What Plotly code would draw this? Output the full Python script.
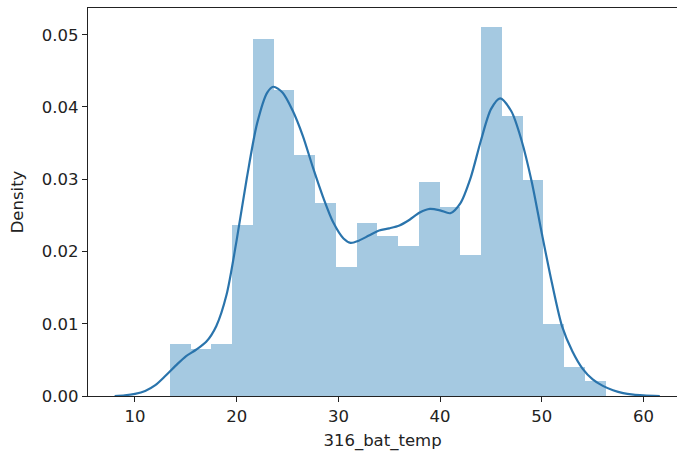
import plotly.graph_objects as go

# Histogram (density) bins
bin_edges = [13.44, 15.48, 17.52, 19.56, 21.60, 23.64, 25.68, 27.72, 29.76, 31.80,
             33.84, 35.88, 37.92, 39.96, 42.00, 44.04, 46.08, 48.12, 50.16, 52.20,
             54.24, 56.28]
bin_density = [0.0072, 0.0065, 0.0072, 0.0237, 0.0494, 0.0424, 0.0333, 0.0267, 0.0179,
               0.0239, 0.0221, 0.0207, 0.0296, 0.0262, 0.0195, 0.0511, 0.0387, 0.0299,
               0.0100, 0.0040, 0.0021]

# KDE curve
kde_x = [8, 9, 10, 11, 12, 13, 14, 15, 16, 17, 18, 19, 20, 21, 22, 23, 23.6, 24.5,
         25.5, 26.5, 27.5, 28.5, 29.5, 30.5, 31.2, 32, 33, 34, 35, 36, 37, 38, 39, 40,
         41, 42, 43, 44, 45, 45.9, 47, 48, 49, 50, 51, 52, 53, 54, 55, 56, 57, 58, 59,
         60, 61.6]
kde_y = [0.0000, 0.0001, 0.0003, 0.0007, 0.0015, 0.0028, 0.0042, 0.0055, 0.0064, 0.0075,
         0.0097, 0.0140, 0.0216, 0.0302, 0.0377, 0.0420, 0.0428, 0.0420, 0.0395, 0.0360,
         0.0316, 0.0275, 0.0240, 0.0218, 0.0212, 0.0215, 0.0222, 0.0229, 0.0232, 0.0236,
         0.0244, 0.0254, 0.0259, 0.0257, 0.0253, 0.0267, 0.0302, 0.0353, 0.0397, 0.0412,
         0.0394, 0.0354, 0.0297, 0.0225, 0.0156, 0.0096, 0.0062, 0.0038, 0.0023, 0.0014,
         0.0008, 0.0004, 0.0002, 0.0001, 0.0000]

x_ticks = [10, 20, 30, 40, 50, 60]
y_ticks = [0.00, 0.01, 0.02, 0.03, 0.04, 0.05]
y_tick_text = ["0.00", "0.01", "0.02", "0.03", "0.04", "0.05"]

centers = [(a + b) / 2 for a, b in zip(bin_edges[:-1], bin_edges[1:])]
widths = [b - a for a, b in zip(bin_edges[:-1], bin_edges[1:])]

fig = go.Figure()
fig.add_trace(go.Bar(x=centers, y=bin_density, width=widths,
                     marker=dict(color="rgba(31,119,180,0.4)", line=dict(width=0)),
                     hoverinfo="skip"))
fig.add_trace(go.Scatter(x=kde_x, y=kde_y, mode="lines",
                         line=dict(color="#2a74ac", width=2.2, shape="spline", smoothing=0.8)))

font = dict(family="DejaVu Sans", size=16.5, color="#222222")
fig.update_layout(
    width=677, height=457,
    margin=dict(l=88, r=0, t=8, b=61),
    plot_bgcolor="white", paper_bgcolor="white",
    showlegend=False, bargap=0,
    font=font,
)
fig.update_xaxes(range=[5.38, 63.29], tickvals=x_ticks, ticks="outside", ticklen=5,
                 tickwidth=1.2, tickcolor="#222", showline=True, linecolor="#222",
                 linewidth=1.3, mirror=True, showgrid=False, zeroline=False,
                 title=dict(text="316_bat_temp", font=font, standoff=9), tickfont=font)
fig.update_yaxes(range=[0, 0.0537], tickvals=y_ticks, ticktext=y_tick_text, ticks="outside",
                 ticklen=5, tickwidth=1.2, tickcolor="#222", showline=True, linecolor="#222",
                 linewidth=1.3, mirror=True, showgrid=False, zeroline=False,
                 title=dict(text="Density", font=font, standoff=14), tickfont=font)

fig.write_html("out.html")
